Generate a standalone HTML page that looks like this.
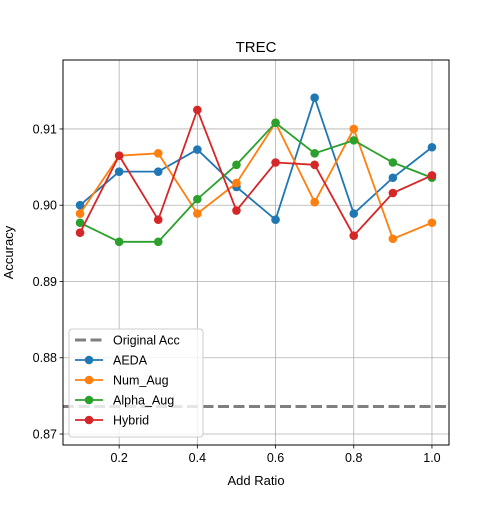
<!DOCTYPE html>
<html><head><meta charset="utf-8"><style>
body{margin:0;background:#fff;font-family:"Liberation Sans","DejaVu Sans",sans-serif}
</style></head><body>
<svg id="chart" width="500" height="500" xmlns="http://www.w3.org/2000/svg"></svg>
<script>
const xValues=[0.1,0.2,0.3,0.4,0.5,0.6,0.7,0.8,0.9,1.0];
const aeda=[0.9000,0.9044,0.9044,0.9073,0.9024,0.8981,0.9141,0.8989,0.9036,0.9076];
const numAug=[0.8989,0.9065,0.9068,0.8989,0.9029,0.9108,0.9004,0.9100,0.8956,0.8977];
const alphaAug=[0.8977,0.8952,0.8952,0.9008,0.9053,0.9108,0.9068,0.9085,0.9056,0.9036];
const hybrid=[0.8964,0.9065,0.8981,0.9125,0.8993,0.9056,0.9053,0.8960,0.9016,0.9039];
const originalAcc=0.8736;
const xTicks=[0.2,0.4,0.6,0.8,1.0];
const yTicks=[0.87,0.88,0.89,0.90,0.91];
const seriesNames=["AEDA","Num_Aug","Alpha_Aug","Hybrid"];
const seriesColors=["#1f77b4","#ff7f0e","#2ca02c","#d62728"];
const seriesData=[aeda,numAug,alphaAug,hybrid];

const L=63,R=449,T=60,B=445,X0=0.0564,X1=1.0436,Y0=0.86856,Y1=0.91904;
const sx=v=>L+(v-X0)/(X1-X0)*(R-L);
const sy=v=>B-(v-Y0)/(Y1-Y0)*(B-T);
const svg=document.getElementById('chart');
const NS="http://www.w3.org/2000/svg";
function mk(tag,attrs,parent){const e=document.createElementNS(NS,tag);for(const k in attrs)e.setAttribute(k,attrs[k]);(parent||svg).appendChild(e);return e;}

const grid=mk('g',{});


xTicks.forEach(t=>{
  mk('line',{x1:sx(t),x2:sx(t),y1:T,y2:B,stroke:'#b0b0b0','stroke-width':0.8},grid);
  mk('line',{x1:sx(t),x2:sx(t),y1:B,y2:B+3.5,stroke:'#000','stroke-width':0.8});
  const lb=mk('text',{x:sx(t),y:B+17,'text-anchor':'middle','font-size':12.5});
  lb.textContent=t.toFixed(1);
  
  
});
yTicks.forEach(t=>{
  mk('line',{x1:L,x2:R,y1:sy(t),y2:sy(t),stroke:'#b0b0b0','stroke-width':0.8},grid);
  mk('line',{x1:L-3.5,x2:L,y1:sy(t),y2:sy(t),stroke:'#000','stroke-width':0.8});
  const lb=mk('text',{x:L-6,y:sy(t)+4.5,'text-anchor':'end','font-size':12.5});
  lb.textContent=t.toFixed(2);
  
  
});

const base=mk('line',{x1:L,x2:R,y1:sy(originalAcc),y2:sy(originalAcc),stroke:'#7f7f7f','stroke-width':3,'stroke-dasharray':'11,4.5'});



seriesData.forEach((d,i)=>{
  const g=mk('g',{});
  
  
  mk('polyline',{points:d.map((v,j)=>sx(xValues[j])+','+sy(v)).join(' '),fill:'none',stroke:seriesColors[i],'stroke-width':1.8},g);
  d.forEach((v,j)=>{
    const c=mk('circle',{cx:sx(xValues[j]),cy:sy(v),r:4.3,fill:seriesColors[i]},g);
    
    
  });
});

const frame=mk('rect',{x:L,y:T,width:R-L,height:B-T,fill:'none',stroke:'#000','stroke-width':1});



const title=mk('text',{x:(L+R)/2,y:52,'text-anchor':'middle','font-size':15});
title.textContent='TREC';


const xt=mk('text',{x:(L+R)/2,y:485,'text-anchor':'middle','font-size':13});
xt.textContent='Add Ratio';


const yt=mk('text',{x:13,y:(T+B)/2,'text-anchor':'middle','font-size':13,transform:'rotate(-90 13 '+(T+B)/2+')'});
yt.textContent='Accuracy';



const leg=mk('g',{});


mk('rect',{x:69,y:329,width:134,height:108,rx:3,fill:'#fff','fill-opacity':0.8,stroke:'#ccc'},leg);
const labels=['Original Acc'].concat(seriesNames);
labels.forEach((n,i)=>{
  const y=340+i*20;
  const e=mk('g',{},leg);
  
  
  if(i===0){mk('line',{x1:75,x2:103,y1:y,y2:y,stroke:'#7f7f7f','stroke-width':3,'stroke-dasharray':'11,4.5'},e);}
  else{mk('line',{x1:75,x2:103,y1:y,y2:y,stroke:seriesColors[i-1],'stroke-width':1.8},e);
       mk('circle',{cx:89,cy:y,r:4.3,fill:seriesColors[i-1]},e);}
  const t=mk('text',{x:113,y:y+4.5,'font-size':12.5},e);
  t.textContent=n;
});
</script>
</body></html>
